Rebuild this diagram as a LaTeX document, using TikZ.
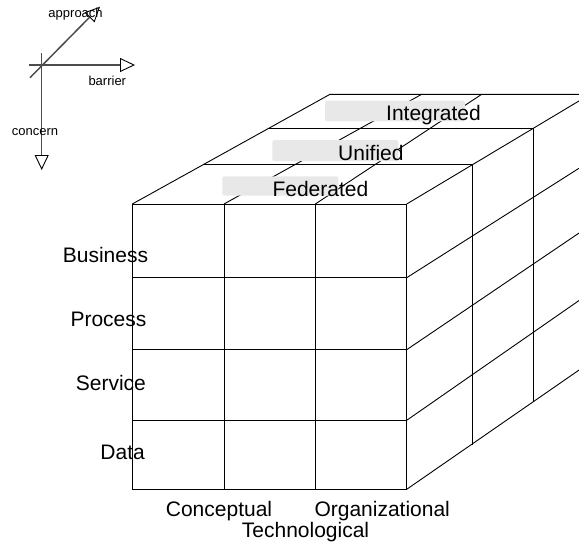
\documentclass[tikz,border=0pt]{standalone}
\usepackage{fontspec}
\setmainfont{Liberation Sans}
\usetikzlibrary{arrows.meta,calc}
\definecolor{boxgray}{RGB}{232,232,232}
\begin{document}
\begin{tikzpicture}[x=1pt,y=-1pt,
  gline/.style={line width=0.9pt,draw=black},
  axisline/.style={line width=1.5pt,draw=black!70,
    -{Triangle[open,length=15pt,width=14pt,line width=0.9pt,color=black]}},
  big/.style={font=\fontsize{21}{24}\selectfont,inner sep=0pt,anchor=base west},
  small/.style={font=\fontsize{13}{15}\selectfont,inner sep=0pt,anchor=base west},
  lvlbox/.style={fill=boxgray,draw=none,rounded corners=2pt}]
\useasboundingbox (0,0) rectangle (579,542);
\clip (0,0) rectangle (579,542);

% ---- front face ----
\coordinate (FTL) at (132.3,204);
\coordinate (FBR) at (406.7,489.3);
\draw[gline] (FTL) rectangle (FBR);
\foreach \x in {224,315.3} \draw[gline] (\x,204) -- (\x,489.3);
\foreach \y in {277.7,349.7,420.3} \draw[gline] (132.3,\y) -- (406.7,\y);

% ---- right face ----
\foreach \ya/\yb in {204/128.3,277.7/197.3,349.7/264,420.3/332.3,489.3/401.7}
  \draw[gline] (406.7,\ya) -- ($(406.7,\ya)!1.6!(533.3,\yb)$);
\draw[gline] (472.3,164.3) -- (472.3,444.5);
\draw[gline] (533.3,128.3) -- (533.3,401.7);

% ---- top face ----
\draw[gline] (FTL) -- (330,94.3) -- (620,94.3);
\draw[gline] (203.8,164.3) -- (472.3,164.3);
\draw[gline] (268.7,128.3) -- (533.3,128.3);
\draw[gline] (224,204) -- (421.7,94.3);
\draw[gline] (315.3,204) -- (481.7,94.3);

% ---- level boxes and labels ----
\path[lvlbox] (325,100.7) rectangle (465,121.3);
\path[lvlbox] (272.3,140) rectangle (398.3,161);
\path[lvlbox] (222.3,176.3) rectangle (338.3,195.7);
\node[big] (integrated) at (386,120.3) {Integrated};
\node[big] (unified) at (338,160.3) {Unified};
\node[big] (federated) at (272.3,196.7) {Federated};

% ---- row labels ----
\node[big] (business) at (62.7,262.7) {Business};
\node[big] (process) at (70.3,326) {Process};
\node[big] (service) at (75.7,390) {Service};
\node[big,anchor=base east] (data) at (145,459) {Data};

% ---- column labels ----
\node[big] (conceptual) at (165.7,516) {Conceptual};
\node[big] (organizational) at (314.3,516) {Organizational};
\node[big] (technological) at (241.7,537.7) {Technological};

% ---- axes ----
\coordinate (vS) at (41.7,53.3);
\coordinate (vE) at (41.7,170);
\coordinate (hS) at (29.3,65);
\coordinate (hE) at (135,65);
\coordinate (dS) at (30,77.7);
\coordinate (dE) at (100,6.7);
\draw[axisline] (vS) -- (vE);
\draw[axisline] (hS) -- (hE);
\draw[axisline] (dS) -- (dE);
\node[small] (approach) at (48.3,17.3) {approach};
\node[small] (barrier) at (88.3,85) {barrier};
\node[small] (concern) at (11.7,135) {concern};
\end{tikzpicture}
\end{document}
